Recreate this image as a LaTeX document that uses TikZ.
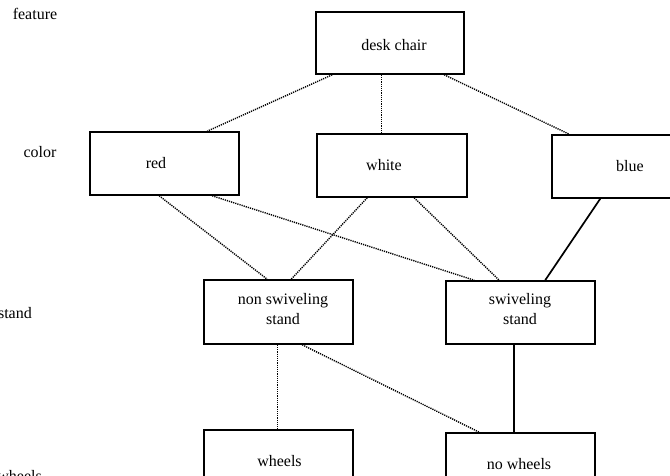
\documentclass[tikz,border=0pt]{standalone}
\usepackage{fontspec}
\setmainfont{Liberation Serif}
\begin{document}
\begin{tikzpicture}[x=1pt,y=-1pt,
  every node/.style={font=\fontsize{16}{20}\selectfont},
  box/.style={draw=black, line width=1.6pt, rectangle, inner sep=0pt,
    minimum width=149pt, minimum height=63pt},
  txt/.style={align=center, inner sep=0pt},
  dotline/.style={line width=1.4pt, dash pattern=on 1.2pt off 1.0pt},
  solidline/.style={line width=1.7pt},
  lvl/.style={inner sep=0pt}]
\useasboundingbox (0,0) rectangle (670,476);
% level labels
\node[lvl] (lfeature) at (35,14) {feature};
\node[lvl] (lcolor) at (40,152) {color};
\node[lvl, anchor=east] (lstand) at (32,313) {stand};
\node[lvl, anchor=base east] (lwheels) at (42,481) {wheels};
% boxes
\node[box, minimum width=148pt, minimum height=62pt,
  label={[txt, xshift=4pt, yshift=-2pt]center:desk chair}] (dc) at (390,43) {};
\node[box, label={[txt, xshift=-8.5pt, yshift=0pt]center:red}] (red) at (164.5,163.5) {};
\node[box, minimum width=150pt, label={[txt, xshift=-8pt, yshift=0pt]center:white}] (white) at (392,165.5) {};
\node[box, minimum width=156pt, label={[txt, xshift=0pt, yshift=0pt]center:blue}] (blue) at (630,166.5) {};
\node[box, minimum height=64pt, label={[txt, xshift=4.5pt, yshift=3pt]center:non swiveling\\stand}] (ns) at (278.5,312) {};
\node[box, label={[txt, xshift=-0.5pt, yshift=3.5pt]center:swiveling\\stand}] (sw) at (520.5,312.5) {};
\node[box, label={[txt, xshift=1pt, yshift=0.5pt]center:wheels}] (wh) at (278.5,461.5) {};
\node[box, label={[txt, xshift=-1.5pt, yshift=0.5pt]center:no wheels}] (nw) at (520.5,464.5) {};
% connectors
\draw[dotline] ([xshift=17pt]dc.south west) -- ([xshift=118pt]red.north west);
\draw[dotline] ([xshift=66pt]dc.south west) -- ([xshift=65pt]white.north west);
\draw[dotline] ([xshift=129pt]dc.south west) -- ([xshift=18pt]blue.north west);
\draw[dotline] ([xshift=70pt]red.south west) -- ([xshift=64pt]ns.north west);
\draw[dotline] ([xshift=123pt]red.south west) -- ([xshift=29pt]sw.north west);
\draw[dotline] ([xshift=51pt]white.south west) -- ([xshift=88pt]ns.north west);
\draw[dotline] ([xshift=98pt]white.south west) -- ([xshift=54pt]sw.north west);
\draw[solidline] ([xshift=49pt]blue.south west) -- ([xshift=100pt]sw.north west);
\draw[dotline] ([xshift=74pt]ns.south west) -- ([xshift=74pt]wh.north west);
\draw[dotline] ([xshift=99pt]ns.south west) -- ([xshift=34pt]nw.north west);
\draw[solidline] ([xshift=69pt]sw.south west) -- ([xshift=69pt]nw.north west);
\end{tikzpicture}
\end{document}
